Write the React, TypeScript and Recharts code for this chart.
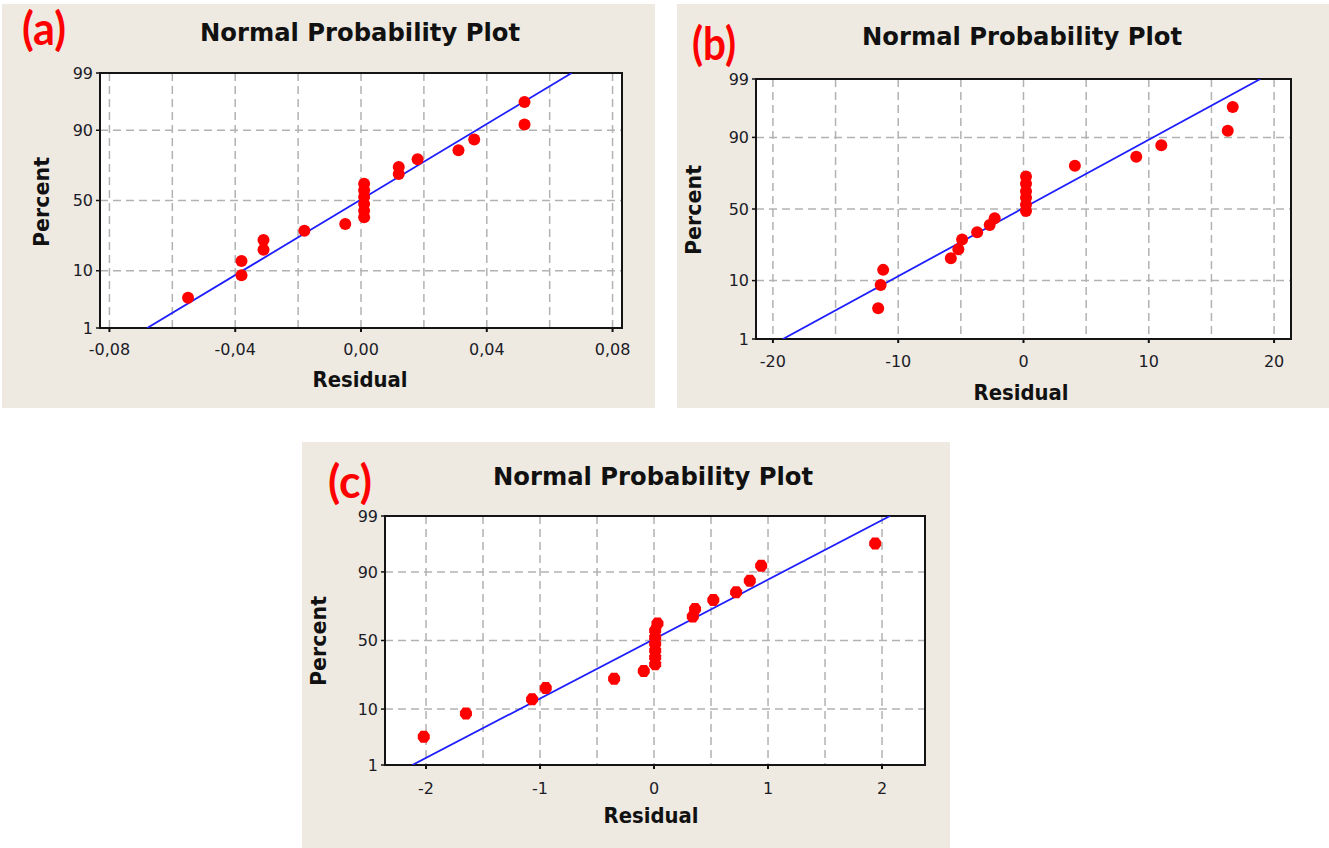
import React from "react";
import { ComposedChart, Scatter, XAxis, YAxis, CartesianGrid, ReferenceArea } from "recharts";

// probability axis ticks (percent)
const percentTicks = [1, 10, 50, 90, 99];

// (a)
const residualA = [-0.055, -0.038, -0.038, -0.031, -0.031, -0.018, -0.005, 0.001, 0.001, 0.001, 0.001, 0.001, 0.001, 0.012, 0.012, 0.018, 0.031, 0.036, 0.052, 0.052];
const percentA = [3.8, 8.6, 13.5, 18.5, 23.6, 29.1, 33.4, 38, 42.5, 47.5, 52.5, 57.5, 62, 68.6, 73, 77.4, 82, 86.7, 91.7, 96.4];
const fitResidualA = [-0.068, 0.067];
const xTicksA = [-0.08, -0.06, -0.04, -0.02, 0, 0.02, 0.04, 0.06, 0.08];
const xLabelsA = ["-0,08", "", "-0,04", "", "0,00", "", "0,04", "", "0,08"];

// (b)
const residualB = [-11.6, -11.4, -11.2, -5.8, -5.2, -4.9, -3.7, -2.7, -2.3, 0.2, 0.2, 0.2, 0.2, 0.2, 0.2, 4.1, 9.0, 11.0, 16.3, 16.7];
const percentB = [3.8, 8.7, 13.8, 18.9, 23.6, 29.2, 33.8, 38.7, 43.4, 48.5, 53, 58, 62.5, 67.5, 72, 78, 82.5, 87.3, 91.9, 96.6];
const fitResidualB = [-19.2, 18.9];
const xTicksB = [-20, -15, -10, -5, 0, 5, 10, 15, 20];
const xLabelsB = ["-20", "", "-10", "", "0", "", "10", "", "20"];

// (c)
const residualC = [-2.02, -1.65, -1.07, -0.95, -0.35, -0.09, 0.01, 0.01, 0.01, 0.01, 0.01, 0.01, 0.03, 0.34, 0.36, 0.52, 0.72, 0.84, 0.94, 1.94];
const percentC = [3.6, 8.6, 13.6, 18.7, 23.8, 28.4, 32.8, 37.7, 42.6, 47.5, 52.5, 57.4, 62.5, 67.3, 72.2, 77.6, 81.6, 86.8, 91.9, 96.5];
const fitResidualC = [-2.12, 2.07];
const xTicksC = [-2, -1.5, -1, -0.5, 0, 0.5, 1, 1.5, 2];
const xLabelsC = ["-2", "", "-1", "", "0", "", "1", "", "2"];

const fitPercent = [1, 99];

// inverse normal cdf (Acklam) for the probability scale
function probit(p: number) {
  const a = [-39.69683028665376, 220.9460984245205, -275.9285104469687, 138.357751867269, -30.66479806614716, 2.506628277459239];
  const b = [-54.47609879822406, 161.5858368580409, -155.6989798598866, 66.80131188771972, -13.28068155288572];
  const c = [-0.007784894002430293, -0.3223964580411365, -2.400758277161838, -2.549732539343734, 4.374664141464968, 2.938163982698783];
  const d = [0.007784695709041462, 0.3224671290700398, 2.445134137142996, 3.754408661907416];
  const pl = 0.02425;
  if (p < pl) {
    const q = Math.sqrt(-2 * Math.log(p));
    return (((((c[0] * q + c[1]) * q + c[2]) * q + c[3]) * q + c[4]) * q + c[5]) / ((((d[0] * q + d[1]) * q + d[2]) * q + d[3]) * q + 1);
  }
  if (p > 1 - pl) {
    const q = Math.sqrt(-2 * Math.log(1 - p));
    return -(((((c[0] * q + c[1]) * q + c[2]) * q + c[3]) * q + c[4]) * q + c[5]) / ((((d[0] * q + d[1]) * q + d[2]) * q + d[3]) * q + 1);
  }
  const q = p - 0.5;
  const r = q * q;
  return ((((((a[0] * r + a[1]) * r + a[2]) * r + a[3]) * r + a[4]) * r + a[5]) * q) / (((((b[0] * r + b[1]) * r + b[2]) * r + b[3]) * r + b[4]) * r + 1);
}
const toZ = (pct: number) => probit(pct / 100);

const Z_LO = toZ(1);
const Z_HI = toZ(99);
const yTicks = percentTicks.map(toZ);

const BG = "#eeeae1";
const TXT = "#1c1c28";

const circleDot = (props: any) => <ellipse cx={props.cx} cy={props.cy} rx={6} ry={6} fill="#ff0000" />;
const octDot = (props: any) => {
  const { cx, cy } = props;
  const pts = [
    [cx - 3, cy - 6], [cx + 3, cy - 6], [cx + 6, cy - 2], [cx + 6, cy + 2],
    [cx + 3, cy + 6], [cx - 3, cy + 6], [cx - 6, cy + 2], [cx - 6, cy - 2],
  ].map((p) => p.join(",")).join(" ");
  return <polygon points={pts} fill="#ff0000" />;
};

interface PanelProps {
  left: number; top: number; width: number; height: number;
  plotLeft: number; plotTop: number; plotRight: number; plotBottom: number;
  residuals: number[]; percents: number[]; fitResidual: number[];
  xDomain: [number, number]; xTicks: number[]; xLabels: string[];
  labelGap: number; dot: (p: any) => any;
}

const Panel = (p: PanelProps) => {
  const points = p.residuals.map((r, i) => ({ x: r, z: toZ(p.percents[i]) }));
  const fit = p.fitResidual.map((r, i) => ({ x: r, z: toZ(fitPercent[i]) }));
  const yw = p.plotLeft - p.left;
  const xh = p.top + p.height - p.plotBottom;

  const xTick = (props: any) => {
    const { x, y, payload } = props;
    const i = p.xTicks.findIndex((t) => Math.abs(t - payload.value) < 1e-9);
    const label = i >= 0 ? p.xLabels[i] : "";
    if (!label) return <g />;
    return (
      <g>
        <line x1={x} x2={x} y1={y} y2={y + 4} stroke="#111" strokeWidth={2} />
        <text x={x} y={y + p.labelGap} textAnchor="middle" fontSize={16} fontFamily="DejaVu Sans" fill={TXT}>{label}</text>
      </g>
    );
  };

  const yTick = (props: any) => {
    const { x, y, payload } = props;
    const i = yTicks.findIndex((t) => Math.abs(t - payload.value) < 1e-9);
    return (
      <g>
        <line x1={x - 4} x2={x} y1={y} y2={y} stroke="#111" strokeWidth={1.5} />
        <text x={x - 7} y={y} dy="0.36em" textAnchor="end" fontSize={16} fontFamily="DejaVu Sans" fill={TXT}>{percentTicks[i]}</text>
      </g>
    );
  };

  return (
    <div style={{ position: "absolute", left: p.left, top: p.top, width: p.width, height: p.height, background: BG }}>
      <ComposedChart
        width={p.width}
        height={p.height}
        margin={{ top: p.plotTop - p.top, right: p.left + p.width - p.plotRight, bottom: 0, left: 0 }}
      >
        <CartesianGrid stroke="#b2b2b2" strokeWidth={1.5} strokeDasharray="8 5" fill="#ffffff" fillOpacity={1} />
        <XAxis type="number" dataKey="x" domain={p.xDomain} ticks={p.xTicks} interval={0} allowDataOverflow
          height={xh} tickSize={0} tickMargin={0} axisLine={false} tickLine={false} tick={xTick} />
        <YAxis type="number" dataKey="z" domain={[Z_LO, Z_HI]} ticks={yTicks} interval={0} allowDataOverflow
          width={yw} tickSize={0} tickMargin={0} axisLine={false} tickLine={false} tick={yTick} />
        <ReferenceArea x1={p.xDomain[0]} x2={p.xDomain[1]} y1={Z_LO} y2={Z_HI} fill="none" stroke="#141414" strokeWidth={2} ifOverflow="visible" />
        <Scatter data={fit} line={{ stroke: "#1e1eff", strokeWidth: 1.8 }} shape={() => <g />} isAnimationActive={false} />
        <Scatter data={points} fill="#ff0000" shape={p.dot} isAnimationActive={false} />
      </ComposedChart>
    </div>
  );
};

const Title = ({ cx, y }: { cx: number; y: number }) => (
  <text x={cx} y={y} textAnchor="middle" fontFamily="DejaVu Sans" fontWeight="bold" fontSize={24}
    textLength={320} lengthAdjust="spacingAndGlyphs" fill="#111">Normal Probability Plot</text>
);
const Tag = ({ x, y, t }: { x: number; y: number; t: string }) => (
  <text x={x} y={y} fontFamily="Lato" fontWeight="bold" fontSize={46} fill="#ff0000"
    textLength={44} lengthAdjust="spacingAndGlyphs">{t}</text>
);
const XTitle = ({ cx, y }: { cx: number; y: number }) => (
  <text x={cx} y={y} textAnchor="middle" fontFamily="DejaVu Sans" fontWeight="bold" fontSize={21}
    textLength={95} lengthAdjust="spacingAndGlyphs" fill="#111">Residual</text>
);
const YTitle = ({ x, cy }: { x: number; cy: number }) => (
  <text transform={`translate(${x},${cy}) rotate(-90)`} textAnchor="middle" fontFamily="DejaVu Sans" fontWeight="bold"
    fontSize={21} textLength={90} lengthAdjust="spacingAndGlyphs" fill="#111">Percent</text>
);

export default function App() {
  return (
    <div style={{ position: "absolute", left: 0, top: 0, width: 1329, height: 848, background: "#ffffff" }}>
      <Panel left={2} top={4} width={653} height={404} plotLeft={100} plotTop={73} plotRight={622} plotBottom={328}
        residuals={residualA} percents={percentA} fitResidual={fitResidualA} xDomain={[-0.083, 0.083]}
        xTicks={xTicksA} xLabels={xLabelsA} labelGap={27} dot={circleDot} />
      <Panel left={677} top={4} width={652} height={404} plotLeft={756} plotTop={79} plotRight={1291} plotBottom={339}
        residuals={residualB} percents={percentB} fitResidual={fitResidualB} xDomain={[-21.35, 21.35]}
        xTicks={xTicksB} xLabels={xLabelsB} labelGap={28} dot={circleDot} />
      <Panel left={302} top={442} width={648} height={406} plotLeft={385} plotTop={516} plotRight={925} plotBottom={765}
        residuals={residualC} percents={percentC} fitResidual={fitResidualC} xDomain={[-2.36, 2.377]}
        xTicks={xTicksC} xLabels={xLabelsC} labelGap={29} dot={octDot} />
      <svg width={1329} height={848} style={{ position: "absolute", left: 0, top: 0, pointerEvents: "none" }}>
        <Tag x={22} y={45} t="(a)" />
        <Tag x={692} y={60} t="(b)" />
        <Tag x={328} y={498} t="(c)" />
        <Title cx={360} y={41} />
        <Title cx={1022} y={45} />
        <Title cx={653} y={485} />
        <XTitle cx={360} y={387} />
        <XTitle cx={1021} y={400} />
        <XTitle cx={651} y={823} />
        <YTitle x={49} cy={202} />
        <YTitle x={701} cy={210} />
        <YTitle x={326} cy={641} />
      </svg>
    </div>
  );
}
